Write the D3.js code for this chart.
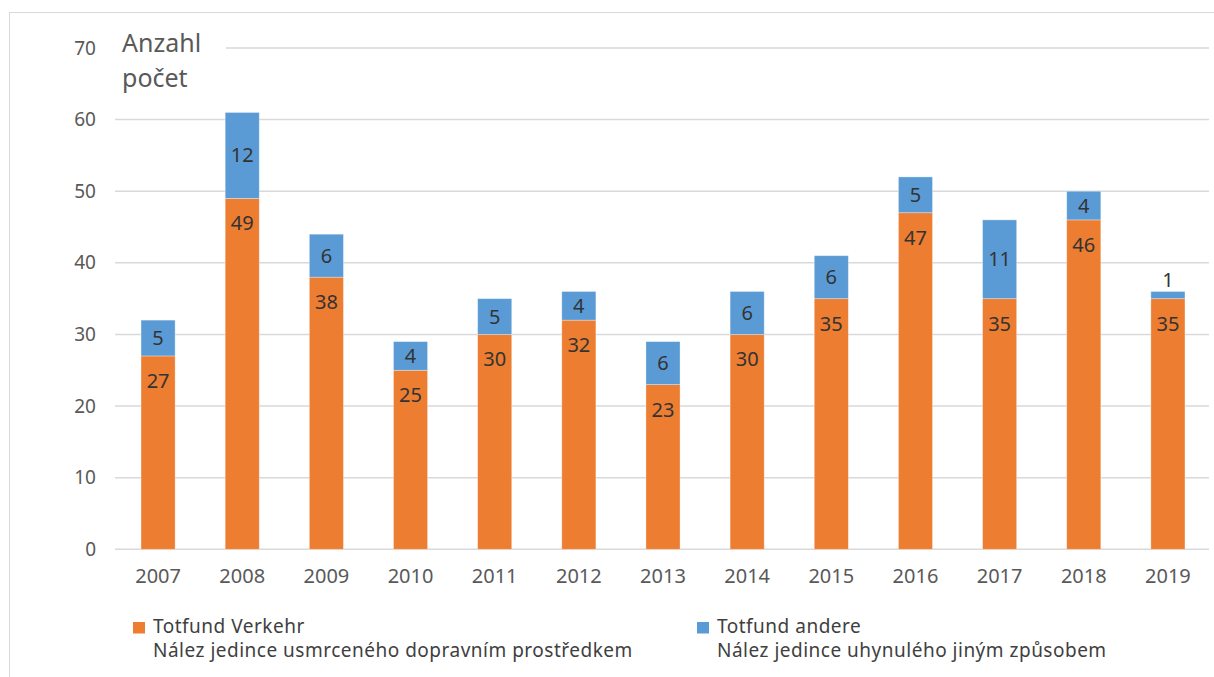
<!DOCTYPE html>
<html>
  <head>
    <meta charset="utf-8">
    <script type="text/javascript" src="https://d3js.org/d3.v7.min.js"></script>
  </head>
  <style>
    body { margin: 0; background: #fff; }
    svg text { font-family: "Noto Sans", sans-serif; }
  </style>
  <body>
    <script type="text/javascript">
        // chart values
        var years = ["2007", "2008", "2009", "2010", "2011", "2012", "2013", "2014", "2015", "2016", "2017", "2018", "2019"];
        var verkehr = [27, 49, 38, 25, 30, 32, 23, 30, 35, 47, 35, 46, 35];
        var andere = [5, 12, 6, 4, 5, 4, 6, 6, 6, 5, 11, 4, 1];
        var yTicks = [0, 10, 20, 30, 40, 50, 60, 70];
        var seriesNames = ["Totfund Verkehr", "Totfund andere"];
        var seriesSub = ["Nález jedince usmrceného dopravním prostředkem", "Nález jedince uhynulého jiným způsobem"];
        var colors = ["#ED7D31", "#5B9BD5"];

        var width = 1214, height = 677;

        var svg = d3.select("body").append("svg")
                    .attr("width", width)
                    .attr("height", height);

        // outer frame
        svg.append("rect")
            .attr("x", 9.5).attr("y", 12.5)
            .attr("width", width).attr("height", height)
            .attr("fill", "none")
            .attr("stroke", "#d9d9d9");

        var x = d3.scaleBand().domain(years).range([116, 1210]).paddingInner(0.595).paddingOuter(0.2975);
        var y = d3.scaleLinear().domain([0, 70]).range([549.3, 48]);

        // gridlines
        svg.append("g")
            .selectAll("line")
            .data(yTicks)
            .enter()
            .append("line")
            .attr("x1", 115).attr("x2", 1209)
            .attr("y1", function(d) { return y(d); })
            .attr("y2", function(d) { return y(d); })
            .attr("stroke", "#d9d9d9")
            .attr("stroke-width", 1.5);

        // y tick labels
        svg.append("g")
            .selectAll("text")
            .data(yTicks)
            .enter()
            .append("text")
            .attr("x", 96)
            .attr("y", function(d) { return y(d); })
            .attr("dy", "0.35em")
            .attr("text-anchor", "end")
            .attr("fill", "#595959")
            .style("font-size", "19px")
            .text(function(d) { return d; });

        // axis title, white box hides the top gridline
        svg.append("rect")
            .attr("x", 114).attr("y", 22)
            .attr("width", 112).attr("height", 75)
            .attr("fill", "#fff");
        svg.append("text")
            .attr("x", 122).attr("y", 52)
            .attr("fill", "#595959")
            .style("font-size", "25px")
            .text("Anzahl");
        svg.append("text")
            .attr("x", 122).attr("y", 87)
            .attr("fill", "#595959")
            .style("font-size", "25px")
            .text("počet");

        // stacked data
        var rows = years.map(function(yr, i) { return {year: yr, v: verkehr[i], a: andere[i]}; });
        var stack = d3.stack().keys(["v", "a"])(rows);

        var layers = svg.append("g")
            .selectAll("g")
            .data(stack)
            .enter()
            .append("g")
            .attr("fill", function(d, i) { return colors[i]; });

        layers.selectAll("rect")
            .data(function(d) { return d; })
            .enter()
            .append("rect")
            .attr("x", function(d) { return x(d.data.year); })
            .attr("width", x.bandwidth())
            .attr("y", function(d) { return y(d[1]); })
            .attr("height", function(d) { return y(d[0]) - y(d[1]); })
            .attr("stroke", "#fff")
            .attr("stroke-opacity", 0.4)
            .attr("stroke-width", 0.8);

        // data labels
        layers.selectAll("text")
            .data(function(d) { return d.map(function(p) { p.key = d.key; return p; }); })
            .enter()
            .append("text")
            .attr("x", function(d) { return x(d.data.year) + x.bandwidth() / 2; })
            .attr("y", function(d) {
                var top = y(d[1]), bot = y(d[0]);
                if (d.key == "v") return top + 25;
                if (bot - top < 20) return top - 11;
                return (top + bot) / 2;
            })
            .attr("dy", "0.35em")
            .attr("text-anchor", "middle")
            .attr("fill", "#333")
            .style("font-size", "20px")
            .text(function(d) { return d[1] - d[0]; });

        // x labels
        svg.append("g")
            .selectAll("text")
            .data(years)
            .enter()
            .append("text")
            .attr("x", function(d) { return x(d) + x.bandwidth() / 2; })
            .attr("y", 583)
            .attr("text-anchor", "middle")
            .attr("fill", "#595959")
            .style("font-size", "20px")
            .text(function(d) { return d; });

        // legend
        var legendX = [133, 697];
        var legend = svg.append("g")
            .selectAll("g")
            .data(seriesNames)
            .enter()
            .append("g")
            .attr("transform", function(d, i) { return "translate(" + legendX[i] + ",0)"; });
        legend.append("rect")
            .attr("x", 0).attr("y", 622)
            .attr("width", 12).attr("height", 11.5)
            .attr("fill", function(d, i) { return colors[i]; });
        legend.append("text")
            .attr("x", 20).attr("y", 633)
            .attr("fill", "#404040")
            .style("font-size", "19px")
            .style("letter-spacing", "0.5px")
            .text(function(d) { return d; });
        legend.append("text")
            .attr("x", 20).attr("y", 657)
            .attr("fill", "#404040")
            .style("font-size", "19px")
            .style("letter-spacing", "0.5px")
            .text(function(d, i) { return seriesSub[i]; });
    </script>
  </body>
</html>
